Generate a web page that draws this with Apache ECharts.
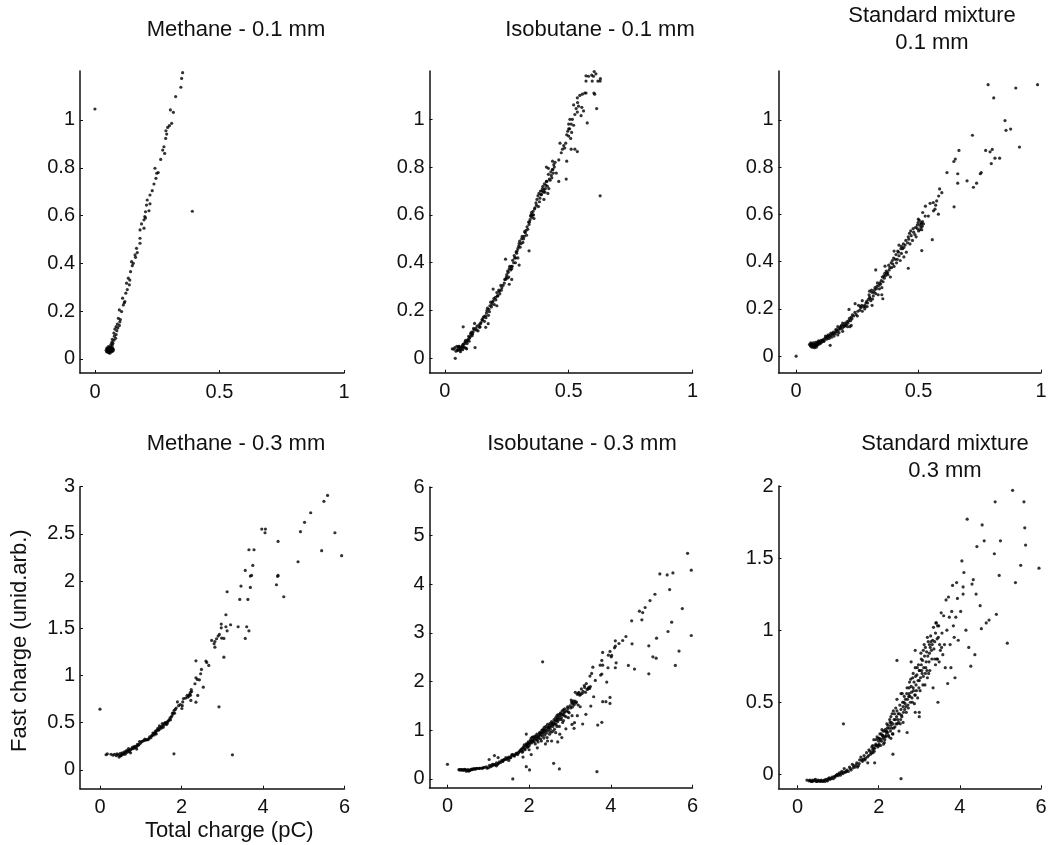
<!DOCTYPE html>
<html><head><meta charset="utf-8">
<script src="https://cdn.jsdelivr.net/npm/echarts@6/dist/echarts.min.js"></script>
<style>html,body{margin:0;padding:0;background:#fff}#c{width:1048px;height:845px}</style>
</head><body><div id="c"></div>
<script>
const methane01 = [[0,1.046],[.391,.618],[.352,1.198],[.348,1.174],[.345,1.137],[.324,1.098],[.303,1.042],[.315,1.032],[.308,.986],[.299,.976],[.292,.969],[.285,.955],[.288,.941],[.284,.923],[.277,.888],[.272,.874],[.28,.86],[.264,.835],[.241,.798],[.248,.777],[.254,.78],[.245,.756],[.237,.732],[.23,.704],[.221,.686],[.21,.665],[.207,.644],[.221,.649],[.217,.62],[.203,.616],[.2,.596],[.203,.59],[.197,.582],[.187,.565],[.181,.54],[.197,.547],[.181,.505],[.181,.484],[.167,.463],[.17,.445],[.161,.435],[.163,.425],[.147,.407],[.154,.4],[.15,.39],[.143,.365],[.134,.338],[.14,.33],[.127,.317],[.138,.31],[.124,.275],[.13,.29],[.111,.254],[.12,.24],[.114,.226],[.118,.235],[.098,.205],[.107,.198],[.094,.17],[.102,.165],[.09,.146],[.098,.14],[.1,.155],[.085,.135],[.092,.13],[.08,.125],[.088,.118],[.076,.108],[.085,.102],[.078,.095],[.083,.086],[.07,.082],[.076,.078],[.068,.07],[.072,.066],[.064,.06],[.07,.058],[.06,.05],[.054,.052],[.048,.045],[.05,.038],[.045,.036],[.047,.03],[.052,.028],[.055,.036],[.057,.044],[.058,.03],[.06,.024],[.063,.03],[.065,.036],[.068,.042],[.071,.046],[.074,.04],[.066,.048],[.062,.04],[.053,.044],[.056,.026],[.07,.034],[.051,.034],[.061,.034],[.067,.03],[.073,.034],[.05,.042],[.058,.038],[.064,.044]];
const isobutane01 = [[.042,0],[.03,.04],[.036,.038],[.04,.045],[.045,.03],[.048,.05],[.052,.033],[.055,.042],[.058,.05],[.06,.035],[.063,.028],[.066,.042],[.07,.05],[.072,.036],[.075,.06],[.078,.048],[.082,.07],[.085,.043],[.088,.04],[.09,.062],[.074,.132],[.12,.146],[.122,.045],[.094,.08],[.098,.072],[.102,.09],[.106,.1],[.11,.095],[.114,.11],[.118,.12],[.125,.125],[.13,.135],[.134,.115],[.138,.14],[.142,.132],[.146,.15],[.15,.162],[.155,.17],[.16,.155],[.164,.178],[.168,.19],[.172,.21],[.176,.18],[.18,.195],[.185,.235],[.19,.226],[.195,.24],[.2,.225],[.204,.255],[.21,.275],[.214,.262],[.218,.285],[.222,.27],[.226,.305],[.23,.295],[.24,.315],[.245,.33],[.25,.35],[.254,.365],[.258,.34],[.262,.385],[.266,.37],[.27,.375],[.274,.41],[.28,.43],[.286,.42],[.29,.44],[.295,.46],[.3,.48],[.304,.465],[.31,.5],[.315,.485],[.32,.51],[.325,.525],[.33,.515],[.335,.54],[.34,.56],[.344,.58],[.348,.6],[.352,.59],[.356,.615],[.36,.585],[.364,.63],[.368,.65],[.372,.665],[.378,.635],[.384,.67],[.388,.685],[.392,.7],[.396,.72],[.4,.705],[.404,.695],[.408,.725],[.412,.74],[.416,.69],[.42,.71],[.425,.745],[.43,.765],[.434,.79],[.438,.775],[.442,.8],[.41,.8],[.418,.795],[.445,.82],[.45,.775],[.435,.825],[.46,.83],[.47,.86],[.475,.875],[.48,.89],[.484,.88],[.488,.9],[.465,.9],[.492,.935],[.496,.95],[.5,.93],[.504,.96],[.508,.92],[.512,.945],[.5,.98],[.505,1.0],[.51,.98],[.515,1.0],[.52,.975],[.492,.825],[.51,.875],[.525,.875],[.535,.865],[.5,.96],[.53,1.045],[.525,1.02],[.52,1.06],[.535,1.03],[.54,1.055],[.49,.75],[.56,1.035],[.553,1.05],[.55,1.015],[.575,.985],[.535,1.09],[.536,1.07],[.545,1.1],[.555,1.105],[.565,1.11],[.57,1.11],[.605,1.105],[.602,1.11],[.613,1.045],[.57,1.16],[.57,1.182],[.58,1.18],[.593,1.185],[.6,1.18],[.603,1.2],[.61,1.19],[.628,1.17],[.618,1.16],[.595,1.16],[.627,1.16],[.627,.68],[.44,.81],[.46,.74],[.34,.45],[.3,.39],[.26,.31],[.295,.42],[.245,.415],[.21,.22],[.195,.29],[.175,.145],[.165,.13],[.38,.69],[.4,.665],[.27,.33],[.285,.4],
[.05,.036],[.056,.05],[.06,.044],[.064,.036],[.068,.048],[.072,.056],[.076,.044],[.08,.062],[.084,.075],[.088,.07],[.092,.075],[.096,.092],[.1,.085],[.104,.105],[.108,.11],[.112,.102],[.116,.125],[.128,.118],[.14,.13],[.144,.145],[.152,.16],[.158,.175],[.166,.17],[.17,.2],[.178,.205],[.182,.22],[.188,.215],[.192,.235],[.198,.25],[.206,.245],[.212,.26],[.22,.28],[.228,.285],[.235,.305],[.242,.33],[.248,.34],[.252,.335],[.256,.36],[.26,.375],[.268,.385],[.272,.385],[.278,.4],[.282,.42],[.288,.445],[.292,.45],[.298,.47],[.302,.49],[.308,.48],[.312,.51],[.318,.5],[.322,.53],[.328,.535],[.332,.55],[.338,.57],[.342,.57],[.346,.595],[.35,.61],[.354,.6],[.358,.6],[.362,.625],[.37,.64],[.376,.68],[.382,.655],[.386,.7],[.39,.685],[.394,.71],[.398,.695],[.402,.73],[.406,.71],[.41,.74],[.414,.72],[.418,.77],[.422,.75],[.428,.78],[.432,.755],[.436,.79]];
const standard01 = [[0,0],[.784,1.149],[.807,1.093],[.897,1.135],[.986,1.149],[.853,.997],[.857,.956],[.876,.961],[.912,.885],[.72,.935],[.665,.871],[.65,.834],[.644,.824],[.616,.777],[.66,.772],[.66,.732],[.698,.742],[.724,.715],[.737,.732],[.752,.772],[.756,.777],[.774,.871],[.792,.865],[.801,.875],[.812,.838],[.831,.838],[.797,.815],[.645,.632],[.586,.708],[.595,.692],[.582,.678],[.574,.657],[.56,.65],[.547,.647],[.528,.635],[.57,.639],[.567,.622],[.581,.601],[.561,.615],[.54,.593],[.527,.593],[.517,.608],[.499,.58],[.556,.493],[.513,.447],[.458,.372],[.325,.365],[.363,.381],[.216,.198],[.241,.222],[.139,.046],[.354,.243],[.055,.05],[.06,.042],[.062,.052],[.065,.038],[.068,.046],[.07,.056],[.072,.04],[.075,.036],[.078,.05],[.08,.044],[.082,.038],[.085,.053],[.088,.047],[.09,.06],[.095,.052],[.098,.063],[.1,.055],[.105,.06],[.11,.07],[.115,.065],[.12,.085],[.125,.072],[.13,.08],[.135,.075],[.14,.09],[.145,.08],[.15,.095],[.155,.085],[.16,.1],[.165,.11],[.17,.125],[.175,.1],[.18,.115],[.185,.13],[.19,.105],[.195,.125],[.2,.14],[.205,.135],[.21,.125],[.215,.15],[.22,.125],[.225,.165],[.23,.175],[.24,.185],[.25,.17],[.255,.215],[.26,.195],[.265,.205],[.27,.19],[.28,.215],[.285,.225],[.29,.21],[.295,.24],[.3,.25],[.305,.235],[.31,.27],[.315,.255],[.32,.28],[.325,.265],[.33,.295],[.335,.26],[.34,.285],[.345,.305],[.35,.29],[.355,.315],[.36,.33],[.365,.34],[.37,.35],[.375,.345],[.38,.365],[.385,.335],[.39,.375],[.395,.39],[.4,.38],[.405,.41],[.41,.395],[.415,.445],[.42,.425],[.425,.405],[.43,.435],[.435,.455],[.44,.42],[.445,.47],[.45,.44],[.455,.48],[.46,.495],[.465,.475],[.47,.51],[.475,.49],[.48,.525],[.485,.515],[.49,.505],[.495,.54],[.5,.53],[.505,.555],[.51,.565],[.515,.55],[.52,.56],[.505,.535],[.495,.555],[.51,.545],[.35,.26],[.31,.215],[.28,.2],[.42,.47],[.43,.465],[.4,.445],[.44,.46],[.225,.13],[.19,.14],[.17,.09],[.27,.235],[.3,.275],
[.058,.046],[.06,.056],[.066,.05],[.068,.04],[.07,.044],[.074,.05],[.076,.043],[.079,.058],[.083,.046],[.086,.06],[.09,.052],[.092,.065],[.097,.058],[.102,.067],[.108,.066],[.112,.062],[.118,.076],[.122,.078],[.128,.086],[.132,.09],[.138,.084],[.142,.098],[.148,.092],[.152,.102],[.158,.095],[.162,.112],[.168,.104],[.172,.112],[.178,.12],[.182,.125],[.188,.118],[.192,.132],[.198,.128],[.202,.13],[.208,.146],[.212,.14],[.218,.16],[.222,.15],[.228,.158],[.235,.17],[.245,.176],[.252,.19],[.262,.21],[.268,.215],[.275,.21],[.282,.208],[.288,.232],[.292,.225],[.298,.26],[.302,.245],[.308,.28],[.312,.242],[.318,.27],[.322,.29],[.328,.285],[.332,.31],[.338,.3],[.342,.31],[.348,.32],[.352,.335],[.358,.34],[.362,.35],[.368,.36],[.373,.355],[.378,.385],[.383,.375],[.388,.395],[.393,.405],[.398,.415],[.408,.43],[.413,.41],[.418,.44],[.428,.455],[.438,.475],[.448,.49],[.458,.505],[.463,.52],[.468,.53],[.478,.54],[.488,.545],[.498,.565],[.503,.575],[.512,.56],[.516,.57],[.513,.535]];
const methane03 = [[0,.643],[1.815,.17],[3.25,.159],[2.92,.668],[3.04,1.194],[5.585,2.908],[5.495,2.845],[5.17,2.724],[5.02,2.622],[4.92,2.523],[5.765,2.512],[5.44,2.322],[5.93,2.269],[4.86,2.205],[3.97,2.551],[4.06,2.551],[4.05,2.512],[4.37,2.42],[4.37,2.06],[4.36,2.05],[4.33,1.961],[4.51,1.834],[3.655,2.332],[3.78,2.332],[3.75,2.166],[3.565,2.113],[3.72,2.06],[3.69,2.053],[3.46,1.947],[3.69,1.933],[3.12,1.887],[3.43,1.806],[3.63,1.806],[3.09,1.643],[2.976,1.544],[2.976,1.505],[3.09,1.516],[3.205,1.537],[3.39,1.516],[3.6,1.516],[3.655,1.473],[3.565,1.392],[3.12,1.473],[3.04,1.392],[2.985,1.396],[2.93,1.435],[2.9,1.417],[2.86,1.389],[2.82,1.36],[2.74,1.371],[2.8,1.336],[2.82,1.3],[2.6,1.152],[2.62,1.138],[2.67,1.106],[2.355,1.155],[2.49,1.064],[2.47,1.018],[2.355,.975],[2.39,.958],[2.44,.954],[2.33,.912],[2.535,.876],[2.4,.788],[2.355,.717],[2.23,.735],[2.24,.85],[2.22,.82],[2.2,.8],[2.14,.79],[2.1,.76],[2.05,.755],[2.03,.72],[2.02,.68],[2.01,.65],[1.9,.72],[1.97,.69],[1.93,.68],[1.85,.64],[1.82,.63],[1.8,.6],[1.77,.575],[1.75,.56],[1.73,.53],[1.7,.53],[1.66,.51],[1.63,.48],[1.6,.5],[1.56,.47],[1.53,.49],[1.5,.44],[1.46,.465],[1.43,.42],[1.4,.42],[1.37,.4],[1.33,.37],[1.3,.39],[1.27,.36],[1.25,.34],[1.2,.33],[1.15,.32],[1.1,.325],[1.05,.305],[1,.285],[.97,.3],[.94,.26],[.9,.25],[.85,.25],[.82,.225],[.8,.24],[.76,.215],[.72,.195],[.7,.225],[.67,.185],[.65,.205],[.62,.165],[.6,.19],[.57,.165],[.55,.18],[.52,.15],[.5,.175],[.47,.135],[.45,.16],[.42,.17],[.4,.15],[.36,.165],[.32,.155],[.27,.165],[.15,.16],[.18,.17],[.9,.22],[1.35,.385],[1.65,.49],[.75,.18],
[.5,.15],[.54,.165],[.58,.17],[.63,.185],[.68,.2],[.72,.21],[.78,.225],[.84,.235],[.88,.24],[.92,.27],[.96,.27],[1.02,.3],[1.08,.31],[1.12,.315],[1.18,.32],[1.22,.35],[1.28,.365],[1.32,.385],[1.36,.41],[1.38,.38],[1.42,.44],[1.45,.425],[1.48,.45],[1.52,.46],[1.55,.45],[1.58,.49],[1.62,.5],[1.68,.52],[1.72,.55],[1.78,.6],[1.83,.6],[1.87,.655],[2.15,.77],[2.18,.78],[2.25,.83],[2.22,.79]];
const isobutane03 = [[0,.3],[1.6,0],[1.93,.253],[2.01,.185],[2.33,2.408],[2.6,.32],[2.74,.205],[3.66,.15],[5.88,4.637],[5.97,4.29],[5.97,2.948],[5.52,4.234],[5.38,4.193],[5.2,4.213],[5.44,3.892],[5.08,3.796],[4.96,3.666],[4.84,3.523],[4.7,3.447],[4.78,3.42],[4.76,3.27],[4.51,3.249],[5.75,3.502],[5.49,3.222],[5.4,3.03],[4.52,2.777],[4.37,2.927],[4.29,2.845],[4.2,2.784],[4.11,2.838],[4.11,2.729],[4.09,2.695],[5.12,2.893],[4.93,2.736],[5.67,2.627],[5.03,2.51],[5.11,2.483],[5.58,2.332],[4.93,2.161],[4.43,2.332],[4.58,2.257],[4.13,2.387],[4.11,2.285],[3.98,2.62],[4.01,2.51],[3.94,2.544],[4.02,2.538],[3.8,2.6],[3.78,2.435],[3.74,2.339],[3.8,2.339],[3.93,2.285],[3.78,2.155],[3.75,2.134],[3.56,2.298],[3.53,2.168],[3.49,2.114],[3.62,2.025],[3.9,1.99],[3.98,1.676],[3.98,1.553],[3.8,1.587],[3.88,1.587],[3.78,1.163],[3.68,1.108],[3.58,1.689],[3.51,1.498],[3.39,1.327],[3.31,1.129],[3.11,1.156],[3.1,1.04],[3.18,1.3],[3.25,1.484],[3.05,1.3],[2.8,.85],[2.7,.76],[2.55,.78],[2.45,.78],[2.3,.78],[1.93,.923],[2.0,.6],[2.05,.5],[1.85,.45],[1.15,.48],[1.24,.44],[1.02,.4],[.97,.22],[.28,.19],[.32,.19],[.36,.19],[.4,.185],[.44,.19],[.46,.16],[.5,.19],[.52,.16],[.55,.175],[.6,.2],[.65,.21],[.68,.2],[.72,.22],[.76,.215],[.8,.22],[.85,.225],[.9,.24],[.95,.25],[1,.23],[1.03,.28],[1.07,.27],[1.1,.3],[1.13,.3],[1.17,.29],[1.2,.33],[1.23,.3],[1.27,.35],[1.3,.34],[1.33,.38],[1.36,.37],[1.4,.4],[1.43,.44],[1.46,.42],[1.5,.45],[1.53,.43],[1.56,.47],[1.6,.5],[1.64,.47],[1.68,.52],[1.72,.5],[1.76,.56],[1.8,.6],[1.83,.55],[1.85,.64],[1.88,.7],[1.9,.6],[1.93,.72],[1.95,.65],[1.98,.76],[2,.68],[2.03,.8],[2.06,.74],[2.08,.86],[2.1,.78],[2.13,.83],[2.15,.72],[2.18,.88],[2.2,.8],[2.22,.76],[2.25,.93],[2.28,.82],[2.3,.95],[2.32,.88],[2.35,1],[2.38,.9],[2.4,1.02],[2.42,.94],[2.44,.85],[2.46,1.06],[2.48,.98],[2.5,1.1],[2.52,1.02],[2.54,.96],[2.56,1.14],[2.58,1.08],[2.6,1.12],[2.62,1.02],[2.64,1.2],[2.66,1.12],[2.68,1.3],[2.7,1.18],[2.72,1.26],[2.74,1.08],[2.76,1.34],[2.78,1.22],[2.8,1.32],[2.82,1.16],[2.84,1.42],[2.86,1.3],[2.88,1.38],[2.9,1.28],[2.95,1.45],[2.98,1.36],[3,1.5],[3.03,1.62],[3.05,1.55],[3.08,1.6],[3.1,1.52],[3.13,1.78],[3.16,1.58],[3.2,1.76],[3.24,1.72],[3.28,1.85],[3.3,1.76],[3.35,1.92],[3.38,1.78],[3.4,1.96],[3.44,1.85],[3.48,1.86],[3.5,1.9],[2.2,.64],[2.65,.95],[2.9,1.03],[2.75,.92],[3.05,1.12],[3.2,1.52],[2.4,.72],[1.1,.27],[1.5,.38],[.6,.19],[.85,.22],[1.2,.27],
[.3,.185],[.34,.185],[.38,.18],[.42,.195],[.48,.175],[.54,.18],[.58,.195],[.63,.2],[.7,.21],[.78,.22],[.88,.23],[1.05,.25],[1.15,.29],[1.25,.32],[1.35,.36],[1.38,.4],[1.44,.4],[1.48,.43],[1.55,.44],[1.58,.5],[1.62,.48],[1.66,.5],[1.7,.53],[1.74,.54],[1.78,.58],[1.82,.62],[1.84,.57],[1.87,.66],[1.89,.62],[1.92,.68],[1.94,.7],[1.96,.72],[1.97,.66],[1.99,.74],[2.01,.72],[2.04,.76],[2.05,.84],[2.07,.78],[2.09,.8],[2.11,.86],[2.12,.76],[2.14,.88],[2.16,.84],[2.17,.8],[2.19,.92],[2.21,.85],[2.23,.88],[2.24,.84],[2.26,.96],[2.27,.9],[2.29,.92],[2.31,1],[2.33,.94],[2.34,1.02],[2.36,.96],[2.37,1.06],[2.39,.98],[2.41,1.08],[2.43,1],[2.45,1.12],[2.47,1.04],[2.49,1.06],[2.51,1.14],[2.53,1.08],[2.55,1.18],[2.57,1.12],[2.59,1.16],[2.61,1.22],[2.63,1.14],[2.65,1.26],[2.67,1.2],[2.69,1.24],[2.71,1.32],[2.73,1.22],[2.75,1.3],[2.77,1.36],[2.79,1.26],[2.81,1.4],[2.83,1.32],[2.85,1.36],[2.87,1.44],[2.92,1.4],[2.94,1.48],[2.96,1.38],[3.02,1.46],[3.04,1.58],[3.06,1.48],[3.09,1.56],[3.12,1.6],[3.14,1.56],[3.18,1.74],[3.22,1.78],[3.26,1.74],[3.32,1.8],[3.36,1.88],[3.42,1.84],[3.46,1.88],[2.58,.98],[2.68,1.08],[2.84,1.2],[2.96,1.26],[2.36,.84],[2.5,.92]];
const standard03 = [[.23,-.04],[.28,-.045],[.3,-.04],[.34,-.05],[.37,-.04],[.4,-.045],[.44,-.035],[.46,-.05],[.5,-.04],[.54,-.045],[.58,-.04],[.62,-.05],[.66,-.04],[.7,-.035],[.74,-.045],[.78,-.025],[.82,-.03],[.85,-.02],[.88,-.03],[.92,-.02],[.96,-.005],[1,-.01],[1.03,.01],[1.06,-.005],[1.09,.02],[1.12,.005],[1.15,.04],[1.18,.015],[1.22,.03],[1.25,.02],[1.28,.05],[1.32,.03],[1.35,.07],[1.38,.06],[1.42,.05],[1.46,.08],[1.5,.06],[1.53,.1],[1.56,.12],[1.6,.09],[1.64,.13],[1.67,.11],[1.7,.15],[1.73,.08],[1.76,.17],[1.8,.14],[1.83,.19],[1.86,.15],[1.88,.24],[1.9,.18],[1.93,.21],[1.96,.26],[1.98,.19],[2,.23],[2.03,.28],[2.05,.2],[2.08,.31],[2.1,.25],[2.12,.21],[2.15,.3],[2.18,.27],[2.2,.35],[2.22,.29],[2.25,.26],[2.28,.36],[2.3,.4],[2.32,.32],[2.34,.28],[2.36,.44],[2.38,.38],[2.4,.33],[2.42,.46],[2.44,.4],[2.46,.35],[2.48,.42],[2.5,.3],[2.52,.48],[2.54,.38],[2.56,.41],[2.58,.56],[2.6,.36],[2.62,.5],[2.64,.45],[2.66,.52],[2.68,.43],[2.7,.6],[2.72,.48],[2.74,.54],[2.76,.64],[2.78,.5],[2.8,.61],[2.82,.53],[2.84,.67],[2.86,.58],[2.88,.49],[2.9,.74],[2.92,.62],[2.94,.69],[2.96,.53],[2.98,.76],[3,.65],[3.02,.58],[3.04,.84],[3.06,.72],[3.08,.79],[3.1,.68],[3.12,.9],[3.14,.62],[3.16,.74],[3.18,.85],[3.2,.67],[3.22,.92],[3.24,.78],[3.26,.72],[3.28,.96],[3.3,.86],[3.32,.9],[3.34,.6],[3.38,.8],[3.4,.76],[3.42,1.05],[3.44,.94],[3.46,.5],[3.48,1.03],[3.5,.9],[3.52,.86],[3.54,1.12],[3.56,.98],[3.58,.83],[3.6,1.1],[3.62,.9],[3.64,.74],[3.66,1.21],[3.68,1],[3.7,.63],[3.72,1.23],[3.74,1.09],[3.76,.9],[3.78,.74],[3.8,1.13],[3.82,1.31],[3.84,1.03],[3.86,.95],[3.88,.67],[3.9,1.09],[3.92,1.33],[3.94,1.22],[3.96,.93],[4.02,1.13],[4.05,1.48],[4.08,1.3],[4.1,1.4],[4.08,1.25],[4.15,1],[4.18,1.77],[4.22,.88],[4.27,.75],[4.3,1.32],[4.33,1.35],[4.37,.83],[4.4,1.25],[4.42,1.58],[4.5,1.17],[4.55,1.73],[4.53,1.01],[4.6,1.62],[4.65,1.05],[4.72,1.07],[4.85,1.53],[4.87,1.89],[4.9,1.11],[4.97,1.38],[5,1.62],[5.17,.91],[5.3,1.97],[5.37,1.33],[5.5,1.45],[5.58,1.89],[5.6,1.71],[5.62,1.59],[5.95,1.43],[2.35,.14],[2.55,-.03],[1.13,.35],[1.9,.08],[2.45,.79],[3.0,.43],[3,.4],[2.9,.43],[2.7,.29],[2.8,.78],[2.9,.86],[3.1,.86],[3.2,.95],[3.4,.98],[2.3,.34],[2.6,.47],[2.55,.56],[2.45,.52],[2.35,.28],[2.2,.3],[2.1,.27],[2.15,.24],[2,.2],[1.95,.2],[1.85,.17],[2.3,.25],[2.9,.55],[2.75,.56],[2.85,.6],[3,.72],[3.05,.8],[3.15,.7],[3.25,.84],[3.45,.8],[3.35,1.02],[3.55,.88],
[.32,-.045],[.36,-.05],[.42,-.04],[.48,-.05],[.52,-.045],[.56,-.05],[.6,-.045],[.64,-.045],[.68,-.05],[.72,-.04],[.76,-.03],[.8,-.035],[.9,-.015],[.94,-.01],[.98,0],[1.02,0],[1.08,.01],[1.14,.015],[1.2,.02],[1.3,.04],[1.37,.045],[1.44,.065],[1.48,.05],[1.52,.075],[1.58,.1],[1.62,.105],[1.66,.1],[1.72,.12],[1.75,.13],[1.78,.16],[1.82,.15],[1.85,.2],[1.87,.18],[1.89,.16],[1.91,.2],[1.94,.24],[1.97,.2],[1.99,.25],[2.01,.21],[2.02,.25],[2.04,.24],[2.06,.28],[2.07,.23],[2.09,.27],[2.11,.3],[2.13,.26],[2.14,.22],[2.16,.31],[2.17,.26],[2.19,.29],[2.21,.32],[2.23,.34],[2.24,.27],[2.26,.32],[2.27,.38],[2.29,.3],[2.31,.36],[2.33,.42],[2.35,.35],[2.37,.32],[2.39,.42],[2.41,.38],[2.43,.35],[2.45,.44],[2.47,.38],[2.49,.36],[2.51,.42],[2.53,.35],[2.55,.45],[2.57,.4],[2.59,.5],[2.61,.43],[2.63,.54],[2.65,.49],[2.67,.47],[2.69,.56],[2.71,.52],[2.73,.46],[2.75,.6],[2.77,.54],[2.79,.66],[2.81,.57],[2.83,.5],[2.85,.7],[2.87,.64],[2.89,.55],[2.91,.68],[2.93,.58],[2.95,.74],[2.97,.65],[2.99,.6],[3.01,.72],[3.03,.67],[3.05,.76],[3.07,.7],[3.09,.62],[3.11,.74],[3.13,.82],[3.15,.88],[3.17,.78],[3.19,.72],[3.21,.82],[3.23,.7],[3.25,.9],[3.27,.88],[3.29,.92],[3.31,.8],[3.33,.93],[3.36,.87],[3.38,.92],[3.41,1.05],[3.43,.8],[3.45,1.03],[3.47,.95],[3.49,.78]];

const xTicks01 = [0, 0.5, 1];
const xTicks03 = [0, 2, 4, 6];
const yTicks01 = [0, 0.2, 0.4, 0.6, 0.8, 1];
const yTicksMethane03 = [0, 0.5, 1, 1.5, 2, 2.5, 3];
const yTicksIsobutane03 = [0, 1, 2, 3, 4, 5, 6];
const yTicksStandard03 = [0, 0.5, 1, 1.5, 2];

const panels = [
 {title:'Methane - 0.1 mm', tx:236, ty:16, d:methane01, box:[80,71,344,373], xr:[-.06,1], yr:[-.059,1.205], xt:xTicks01, yt:yTicks01},
 {title:'Isobutane - 0.1 mm', tx:600, ty:16, d:isobutane01, box:[429.5,71,692.5,372.7], xr:[-.062,1], yr:[-.06,1.202], xt:xTicks01, yt:yTicks01},
 {title:'Standard mixture\n0.1 mm', tx:932, ty:2, d:standard01, box:[778.5,71,1041,372.7], xr:[-.072,1], yr:[-.07,1.207], xt:xTicks01, yt:yTicks01},
 {title:'Methane - 0.3 mm', tx:236, ty:430, d:methane03, box:[80,486.7,344.5,788.7], xr:[-.49,6], yr:[-.2,3], xt:xTicks03, yt:yTicksMethane03, xn:'Total charge (pC)', yn:'Fast charge (unid.arb.)'},
 {title:'Isobutane - 0.3 mm', tx:582, ty:430, d:isobutane03, box:[429.5,487,692.5,787.7], xr:[-.44,6], yr:[-.18,6], xt:xTicks03, yt:yTicksIsobutane03},
 {title:'Standard mixture\n0.3 mm', tx:945, ty:430, d:standard03, box:[778.5,486,1041,788.3], xr:[-.47,6], yr:[-.097,2], xt:xTicks03, yt:yTicksStandard03}
];
const FONT = '"Liberation Sans", Arial, sans-serif';
const INK = '#111';
const opt = {animation:false, backgroundColor:'#fff', title:[], grid:[], xAxis:[], yAxis:[], series:[]};
panels.forEach((p,i)=>{
  const [l,t,r,b] = p.box;
  opt.title.push({text:p.title, left:p.tx, top:p.ty, textAlign:'center', padding:0,
    textStyle:{fontFamily:FONT, fontSize:22, fontWeight:'normal', color:INK, lineHeight:27}});
  opt.grid.push({left:l, top:t, width:r-l, height:b-t, containLabel:false, outerBoundsMode:'none'});
  const ax = (rng,ticks,margin,extra)=>Object.assign({type:'value', gridIndex:i, min:rng[0], max:rng[1], splitLine:{show:false},
    axisLine:{show:true, onZero:false, lineStyle:{color:INK, width:1.5}},
    axisTick:{show:true, inside:true, length:3, customValues:ticks, lineStyle:{color:INK, width:1}},
    axisLabel:{show:true, customValues:ticks, fontFamily:FONT, fontSize:20, color:INK, margin:margin, showMinLabel:true, showMaxLabel:true, hideOverlap:false}}, extra);
  opt.xAxis.push(ax(p.xr,p.xt,9,p.xn?{name:p.xn,nameLocation:'middle',nameGap:31,nameTextStyle:{fontFamily:FONT,fontSize:22,color:INK,padding:[0,0,0,34]}}:{}));
  opt.yAxis.push(ax(p.yr,p.yt,5,p.yn?{name:p.yn,nameLocation:'middle',nameGap:49,nameTextStyle:{fontFamily:FONT,fontSize:22,color:INK,padding:[0,6,0,0]}}:{}));
  opt.series.push({type:'scatter', xAxisIndex:i, yAxisIndex:i, data:p.d, symbol:'circle', symbolSize:3.2, clip:false,
    itemStyle:{color:'#000'}, silent:true});
});
echarts.init(document.getElementById('c'),null,{renderer:'canvas'}).setOption(opt);
</script>
</body></html>
